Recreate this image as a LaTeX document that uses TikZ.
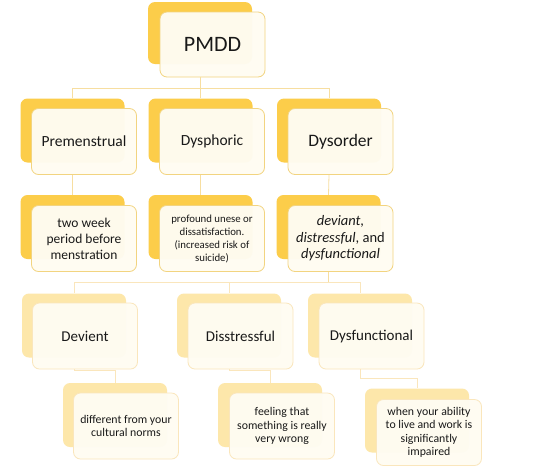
\documentclass[tikz,border=0pt]{standalone}
\usepackage{fontspec}
\setmainfont{Carlito}
\definecolor{gold}{RGB}{252,205,74}
\definecolor{palegold}{RGB}{253,231,170}
\definecolor{cream}{RGB}{255,252,242}
\definecolor{goldline}{RGB}{242,212,128}
\definecolor{paleline}{RGB}{250,230,188}
\definecolor{conn}{RGB}{247,222,160}
\definecolor{txt}{RGB}{25,25,25}
\begin{document}
\begin{tikzpicture}[x=1pt,y=-1pt,
  backbox/.style={fill=gold, draw=none, rounded corners=7pt, minimum width=104pt, minimum height=64pt, inner sep=0pt},
  paleback/.style={backbox, fill=palegold},
  frontbox/.style={draw=goldline, line width=0.8pt, fill=cream, fill opacity=0.97, text opacity=1, rounded corners=7pt, minimum width=105pt, minimum height=66pt, align=center, text=txt, inner sep=2pt},
  palefront/.style={frontbox, draw=paleline},
  link/.style={draw=conn, line width=0.8pt},
  palelink/.style={draw=paleline, line width=0.8pt},
  big/.style={font=\fontsize{22}{26}\selectfont},
  lone/.style={font=\fontsize{15.5}{18}\selectfont},
  ltwo/.style={font=\fontsize{13.5}{16}\selectfont},
  small/.style={font=\fontsize{10.8}{13}\selectfont},
  lthree/.style={font=\fontsize{15}{18}\selectfont},
  lfour/.style={font=\fontsize{11.8}{13.5}\selectfont}
]
\useasboundingbox (0,0) rectangle (540,467);
\fill[white] (0,0) rectangle (540,467);

% level 0
\node[backbox, minimum height=62pt] (pmb) at (200,33) {};
\node[frontbox, minimum height=65pt, big] (pm) at ([shift={(12.5,11.5)}]pmb.center) {PMDD};

% level 1
\node[backbox] (preb) at (72.5,130.5) {};
\node[frontbox, lone] (pre) at ([shift={(11.5,11)}]preb.center) {Premenstrual};
\node[backbox] (dysb) at (200.5,130.5) {};
\node[frontbox, lone] (dys) at ([shift={(11.5,11)}]dysb.center) {Dysphoric};
\node[backbox] (dorb) at (329,130.5) {};
\node[frontbox, font=\fontsize{17.5}{20}\selectfont] (dor) at ([shift={(11.5,11)}]dorb.center) {Dysorder};

% level 2
\node[backbox] (pretb) at (72.5,227) {};
\node[frontbox, ltwo] (pret) at ([shift={(11.5,11.5)}]pretb.center) {two week\\period before\\menstration};
\node[backbox] (dystb) at (200.5,227) {};
\node[frontbox, small] (dyst) at ([shift={(11.5,11.5)}]dystb.center) {profound unese or\\dissatisfaction.\\(increased risk of\\suicide)};
\node[backbox] (dortb) at (328.5,227) {};
\node[frontbox, font=\fontsize{14.5}{16.5}\selectfont] (dort) at ([shift={(12,11.5)}]dortb.center) {\itshape deviant,\\\itshape distressful\upshape, and\\\itshape dysfunctional};

% level 3
\node[paleback] (devb) at (74,325.5) {};
\node[palefront, lthree] (dev) at ([shift={(11,10.5)}]devb.center) {Devient};
\node[paleback] (disb) at (229,325.5) {};
\node[palefront, lthree] (dis) at ([shift={(11.5,10.5)}]disb.center) {Disstressful};
\node[paleback] (dfnb) at (360,325.5) {};
\node[palefront, lthree] (dfn) at ([shift={(11.5,10.5)}]dfnb.center) {Dysfunctional};

% level 4
\node[paleback] (devfb) at (115,415) {};
\node[palefront, lfour] (devf) at ([shift={(11,11)}]devfb.center) {different from your\\cultural norms};
\node[paleback] (disfb) at (270,415) {};
\node[palefront, lfour] (disf) at ([shift={(12,11)}]disfb.center) {feeling that\\something is really\\very wrong};
\node[paleback] (dfnfb) at (417,420.5) {};
\node[palefront, lfour] (dfnf) at ([shift={(12,12)}]dfnfb.center) {when your ability\\to live and work is\\significantly\\impaired};

% bus levels
\coordinate (busa) at (0,88);
\coordinate (busb) at (0,282);
\coordinate (busc) at (0,370.5);
\coordinate (busd) at (0,378);

% connectors
\path[link] (pmb |- pm.south) -- (pmb |- busa);
\path[link] (preb.north) |- (dorb |- busa) -- (dorb.north);
\path[link] (dysb |- busa) -- (dysb.north);
\path[link] (preb |- pre.south) -- (pretb.north);
\path[link] (dysb |- dys.south) -- (dystb.north);
\path[link] (dorb |- dor.south) -- (dortb.north);
\path[link] (dortb |- dort.south) -- (dortb |- busb);
\path[palelink] (devb.north) |- (dfnb |- busb) -- (dfnb.north);
\path[palelink] (disb |- busb) -- (disb.north);
\path[palelink] (devb |- dev.south) -- (devb |- busc) -| (devfb.north);
\path[palelink] (disb |- dis.south) -- (disb |- busc) -| (disfb.north);
\path[palelink] (dfnb |- dfn.south) -- (dfnb |- busd) -| (dfnfb.north);
\end{tikzpicture}
\end{document}
